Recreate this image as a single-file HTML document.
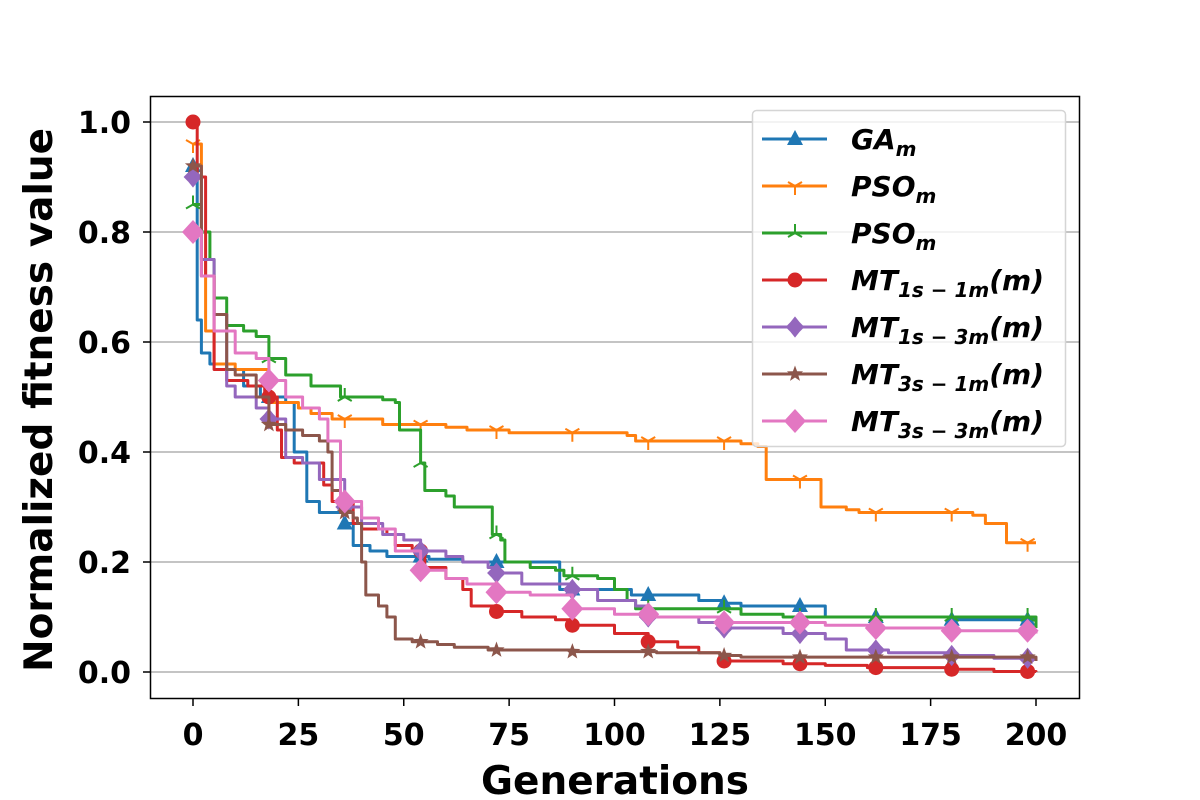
<!DOCTYPE html>
<html><head><meta charset="utf-8"><style>
html,body{margin:0;padding:0;background:#fff}
svg{display:block;font-family:"DejaVu Sans","Liberation Sans",sans-serif;font-weight:bold}
</style></head><body>
<svg id="chart" width="1200" height="800" viewBox="0 0 1200 800" xmlns="http://www.w3.org/2000/svg">
<rect x="0" y="0" width="1200" height="800" fill="#fff"/>
<g id="grid"></g>
<g id="series"></g>
<rect x="150.5" y="96.5" width="929" height="602" fill="none" stroke="#000" stroke-width="1.5"/>
<g id="ticks"></g>
<text x="615" y="794" text-anchor="middle" font-size="39">Generations</text>
<text transform="translate(52,400) rotate(-90)" text-anchor="middle" font-size="39">Normalized fitness value</text>
<g id="legend"></g>
</svg>
<script>
const xTicks=[0,25,50,75,100,125,150,175,200];
const yTicks=[0.0,0.2,0.4,0.6,0.8,1.0];
const markerGens=[0,18,36,54,72,90,108,126,144,162,180,198];
const gaX=[0,1,2,4,8,12,16,22,24,27,30,34,36,38,42,46,56,64,86,87,100,104,120,126,130,150,180,200];
const gaY=[0.92,0.64,0.58,0.56,0.55,0.52,0.5,0.49,0.4,0.31,0.29,0.29,0.27,0.23,0.22,0.21,0.205,0.2,0.2,0.15,0.15,0.14,0.13,0.125,0.12,0.1,0.095,0.09];
const psoAX=[0,2,3,5,10,17,18,25,28,33,45,60,65,75,85,103,105,130,134,136,148,149,155,158,185,188,192,193,200];
const psoAY=[0.96,0.75,0.62,0.56,0.55,0.55,0.49,0.48,0.47,0.46,0.45,0.445,0.44,0.435,0.435,0.43,0.42,0.415,0.41,0.35,0.35,0.3,0.295,0.29,0.285,0.27,0.27,0.235,0.235];
const psoBX=[0,2,4,5,8,12,15,18,22,28,35,45,48,49,52,54,55,60,62,70,71,73,74,80,86,88,96,100,103,105,125,130,140,190,200];
const psoBY=[0.85,0.8,0.75,0.68,0.63,0.62,0.61,0.57,0.54,0.52,0.5,0.495,0.49,0.44,0.44,0.38,0.33,0.32,0.3,0.3,0.25,0.24,0.2,0.19,0.185,0.175,0.17,0.15,0.13,0.115,0.115,0.105,0.1,0.1,0.08];
const mt11X=[0,1,3,5,8,13,17,20,21,24,30,31,33,36,38,40,46,48,52,55,60,64,66,72,78,86,90,100,108,115,120,125,140,150,160,180,190,200];
const mt11Y=[1.0,0.9,0.72,0.55,0.53,0.52,0.5,0.44,0.39,0.38,0.38,0.34,0.31,0.31,0.27,0.26,0.25,0.23,0.22,0.19,0.17,0.15,0.12,0.11,0.1,0.095,0.085,0.07,0.055,0.045,0.035,0.02,0.015,0.012,0.008,0.005,0.001,0.0];
const mt13X=[0,2,5,8,10,15,18,22,26,30,36,40,45,50,54,60,64,70,72,78,90,96,105,108,120,126,140,150,155,165,180,190,200];
const mt13Y=[0.9,0.75,0.65,0.52,0.5,0.48,0.46,0.39,0.38,0.35,0.3,0.27,0.25,0.24,0.22,0.21,0.2,0.19,0.18,0.16,0.15,0.13,0.12,0.1,0.09,0.08,0.07,0.06,0.04,0.035,0.03,0.025,0.02];
const mt31X=[0,2,5,8,10,15,18,22,26,30,32,33,35,38,39,40,41,44,46,48,52,58,62,70,90,110,125,130,200];
const mt31Y=[0.92,0.72,0.65,0.55,0.54,0.5,0.45,0.44,0.43,0.42,0.4,0.33,0.29,0.28,0.27,0.2,0.14,0.12,0.1,0.06,0.055,0.05,0.045,0.04,0.037,0.035,0.03,0.027,0.02];
const mt33X=[0,2,5,10,15,18,22,26,30,32,35,40,44,48,54,60,65,72,80,90,100,110,126,150,162,180,200];
const mt33Y=[0.8,0.72,0.62,0.58,0.57,0.53,0.5,0.48,0.46,0.42,0.31,0.28,0.26,0.22,0.185,0.17,0.16,0.145,0.14,0.115,0.105,0.1,0.09,0.085,0.08,0.075,0.07];

const NS="http://www.w3.org/2000/svg";
const X=v=>193+v*(1036-193)/200;
const Y=v=>672-v*550;
function mk(t,a,p){const e=document.createElementNS(NS,t);for(const k in a)e.setAttribute(k,a[k]);if(p)p.appendChild(e);return e;}
const grid=document.getElementById('grid'),ticks=document.getElementById('ticks'),ser=document.getElementById('series'),leg=document.getElementById('legend');
yTicks.forEach(v=>{
  const l=mk('line',{x1:151,x2:1079,y1:Y(v),y2:Y(v),stroke:'#b0b0b0','stroke-width':1.5},grid);
  
  
  mk('line',{x1:143,x2:150,y1:Y(v),y2:Y(v),stroke:'#000','stroke-width':1.5},ticks);
  const t=mk('text',{x:131,y:Y(v)+11,'text-anchor':'end','font-size':30},ticks);t.textContent=v.toFixed(1);
  
  
});
xTicks.forEach(v=>{
  mk('line',{x1:X(v),x2:X(v),y1:699,y2:706,stroke:'#000','stroke-width':1.5},ticks);
  const t=mk('text',{x:X(v),y:745,'text-anchor':'middle','font-size':30},ticks);t.textContent=v;
  
  
});
function stepVal(xs,ys,g){let v=ys[0];for(let i=0;i<xs.length;i++){if(xs[i]<=g)v=ys[i];}return v;}
function marker(type,cx,cy,c,p){
  if(type==='tri')return mk('polygon',{points:`${cx},${cy-9} ${cx-8},${cy+6} ${cx+8},${cy+6}`,fill:c},p);
  if(type==='tdown'){const g=mk('g',{stroke:c,'stroke-width':2},p);mk('line',{x1:cx,y1:cy,x2:cx,y2:cy+9},g);mk('line',{x1:cx,y1:cy,x2:cx-7,y2:cy-4},g);mk('line',{x1:cx,y1:cy,x2:cx+7,y2:cy-4},g);return g;}
  if(type==='tup'){const g=mk('g',{stroke:c,'stroke-width':2},p);mk('line',{x1:cx,y1:cy,x2:cx,y2:cy-9},g);mk('line',{x1:cx,y1:cy,x2:cx-7,y2:cy+4},g);mk('line',{x1:cx,y1:cy,x2:cx+7,y2:cy+4},g);return g;}
  if(type==='circ')return mk('circle',{cx:cx,cy:cy,r:7.5,fill:c},p);
  if(type==='pdia')return mk('polygon',{points:`${cx},${cy-9} ${cx+4},${cy-4} ${cx+8},${cy} ${cx+4},${cy+4} ${cx},${cy+9} ${cx-4},${cy+4} ${cx-8},${cy} ${cx-4},${cy-4}`,fill:c,stroke:c,'stroke-width':2},p);
  if(type==='star'){let pts=[];for(let i=0;i<10;i++){const r=i%2?3.5:8.5,a=-Math.PI/2+i*Math.PI/5;pts.push((cx+r*Math.cos(a)).toFixed(1)+','+(cy+r*Math.sin(a)).toFixed(1));}return mk('polygon',{points:pts.join(' '),fill:c},p);}
  if(type==='dia')return mk('polygon',{points:`${cx},${cy-12} ${cx+11},${cy} ${cx},${cy+12} ${cx-11},${cy}`,fill:c},p);
}
const S=[
 {xs:gaX,ys:gaY,c:'#1f77b4',m:'tri',name:'series-ga',lab:['GA','m','']},
 {xs:psoAX,ys:psoAY,c:'#ff7f0e',m:'tdown',name:'series-pso-a',lab:['PSO','m','']},
 {xs:psoBX,ys:psoBY,c:'#2ca02c',m:'tup',name:'series-pso-b',lab:['PSO','m','']},
 {xs:mt11X,ys:mt11Y,c:'#d62728',m:'circ',name:'series-mt-1s-1m',lab:['MT','1s − 1m','(m)']},
 {xs:mt13X,ys:mt13Y,c:'#9467bd',m:'pdia',name:'series-mt-1s-3m',lab:['MT','1s − 3m','(m)']},
 {xs:mt31X,ys:mt31Y,c:'#8c564b',m:'star',name:'series-mt-3s-1m',lab:['MT','3s − 1m','(m)']},
 {xs:mt33X,ys:mt33Y,c:'#e377c2',m:'dia',name:'series-mt-3s-3m',lab:['MT','3s − 3m','(m)']}
];
S.forEach(s=>{
  const g=mk('g',{},ser);
  
  
  let pts=[X(s.xs[0]).toFixed(1)+','+Y(s.ys[0]).toFixed(1)];
  for(let i=1;i<s.xs.length;i++){
    pts.push(X(s.xs[i]).toFixed(1)+','+Y(s.ys[i-1]).toFixed(1));
    pts.push(X(s.xs[i]).toFixed(1)+','+Y(s.ys[i]).toFixed(1));
  }
  const pl=mk('polyline',{points:pts.join(' '),fill:'none',stroke:s.c,'stroke-width':3,'stroke-linejoin':'round'},g);
  
  
  markerGens.forEach(gen=>{const m=marker(s.m,X(gen),Y(stepVal(s.xs,s.ys,gen)),s.c,g);
    
    });
});
const lb=mk('rect',{x:752.5,y:110.5,width:313,height:336,rx:4,fill:'rgba(255,255,255,0.8)',stroke:'#d5d5d5','stroke-width':1.5},leg);


S.forEach((s,i)=>{
  const y=139+i*47;
  const g=mk('g',{},leg);
  
  
  mk('line',{x1:762,x2:827,y1:y,y2:y,stroke:s.c,'stroke-width':3},g);
  marker(s.m,795,y,s.c,g);
  const t=mk('text',{x:851,y:y+10,'font-size':28,'font-style':'italic'},g);
  const a=mk('tspan',{},t);a.textContent=s.lab[0];
  const b=mk('tspan',{'font-size':20,dy:7},t);b.textContent=s.lab[1];
  if(s.lab[2]){const c=mk('tspan',{dy:-7},t);c.textContent=s.lab[2];}
});
</script>
</body></html>
